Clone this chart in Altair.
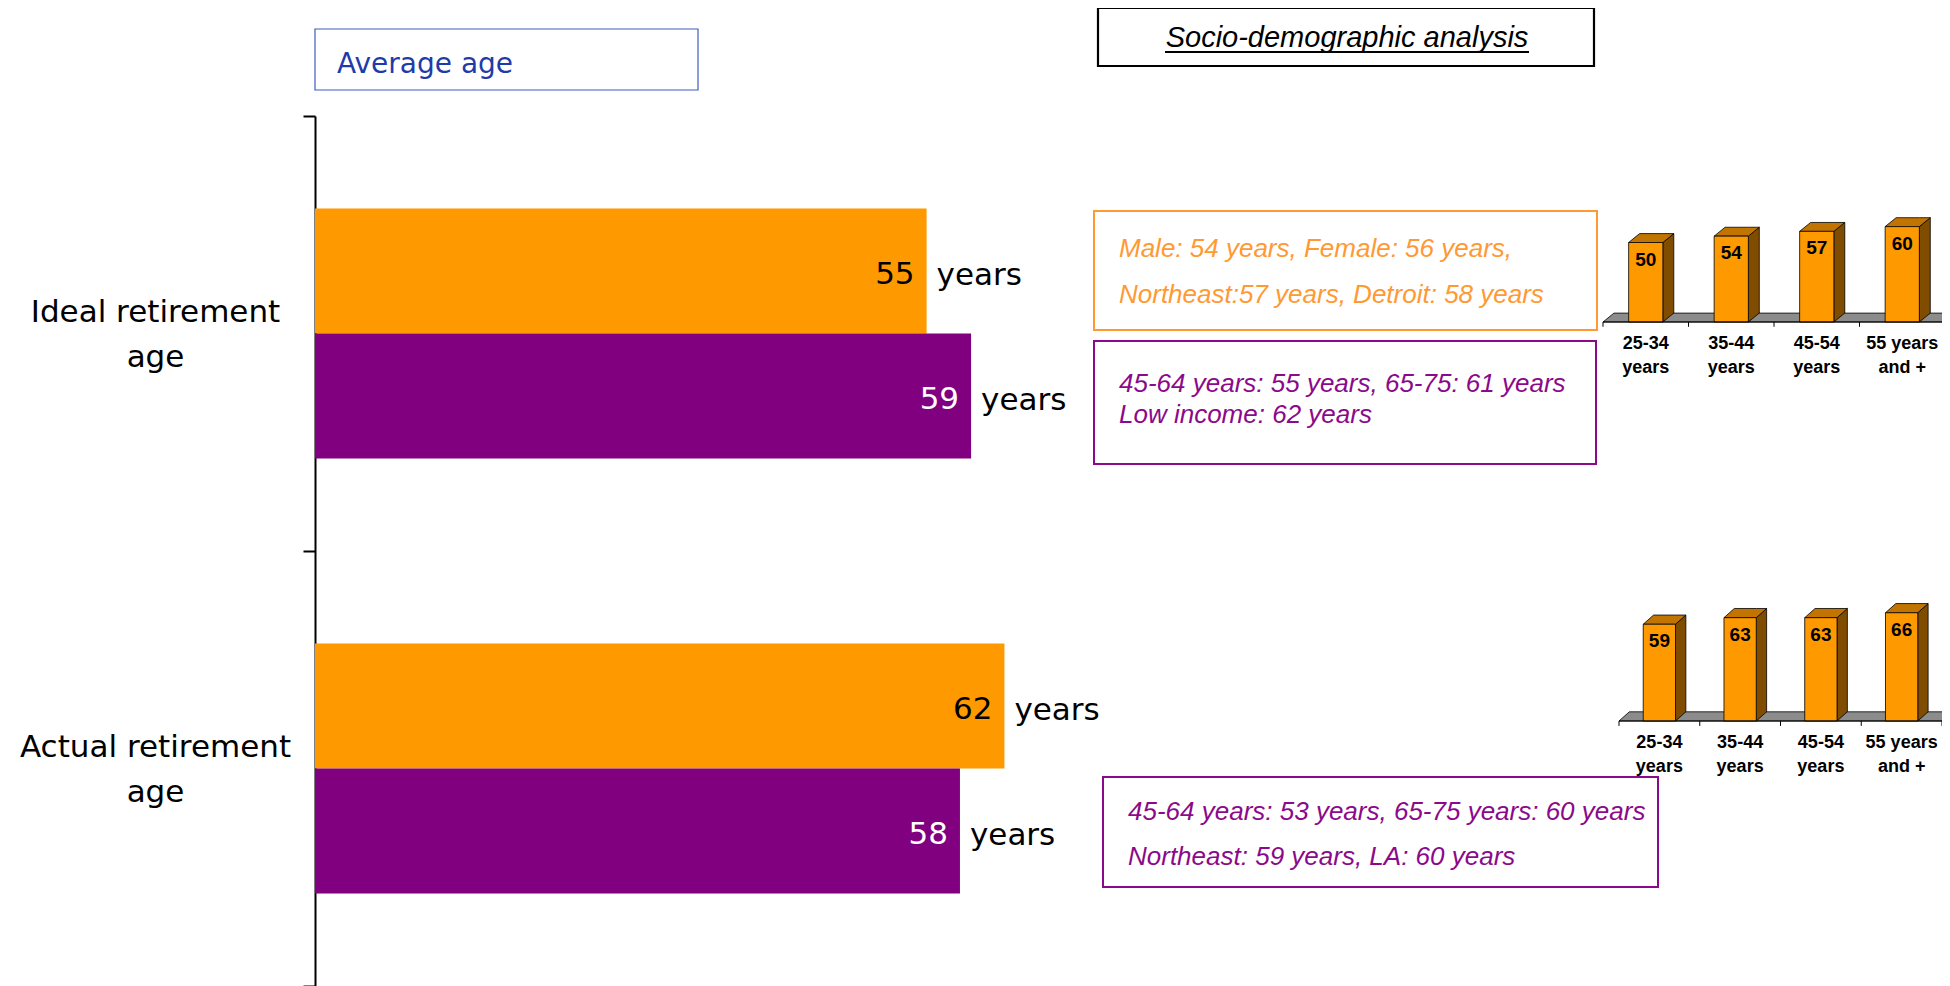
import altair as alt
import pandas as pd

# ---------------- data ----------------
categories = ["Ideal retirement age", "Actual retirement age"]
series = ["Series 1", "Series 2"]
ideal_values = [55, 59]
actual_values = [62, 58]
unit_label = "years"

age_groups = ["25-34\nyears", "35-44\nyears", "45-54\nyears", "55 years\nand +"]
ideal_by_age = [50, 54, 57, 60]
actual_by_age = [59, 63, 63, 66]

title_text = "Average age"
header_text = "Socio-demographic analysis"
ideal_notes_orange = ["Male: 54 years, Female: 56 years,", "Northeast:57 years, Detroit: 58 years"]
ideal_notes_purple = ["45-64 years: 55 years, 65-75: 61 years", "Low income: 62 years"]
actual_notes_purple = ["45-64 years: 53 years, 65-75 years: 60 years", "Northeast: 59 years, LA: 60 years"]

# ---------------- styles ----------------
ORANGE = "#FF9900"
PURPLE = "#800080"
NOTE_ORANGE = "#FF9933"
NOTE_PURPLE = "#8B0A8B"
BLUE = "#1F3BAA"
SIDE = "#7F4C00"
TOPF = "#C27400"
FLOOR = "#8C8C8C"
MAIN_FONT = "DejaVu Sans"
NOTE_FONT = "Liberation Sans"

rows = []
for c, vals in zip(categories, [ideal_values, actual_values]):
    for s, v in zip(series, vals):
        rows.append({"category": c, "series": s, "value": v})
main_df = pd.DataFrame(rows)

# ---------------- main bar chart ----------------
x_main = alt.X("value:Q", scale=alt.Scale(domain=[0, 100], range=[0, 1112]), axis=None)
y_main = alt.Y(
    "category:N", sort=categories, title=None,
    scale=alt.Scale(range=[0, 870], paddingInner=0, paddingOuter=0),
    axis=alt.Axis(
        domainColor="black", domainWidth=2, tickColor="black", tickWidth=2, tickSize=12,
        tickBand="extent", labelFont=MAIN_FONT, labelFontSize=31, labelColor="black",
        labelAlign="center", labelBaseline="middle", labelPadding=148, labelLineHeight=45,
        labelLimit=400, labelOffset=-21,
        labelExpr="[substring(datum.label, 0, lastindexof(datum.label, ' ')), "
                  "substring(datum.label, lastindexof(datum.label, ' ') + 1)]",
    ),
)
y_off = alt.YOffset("series:N", sort=series, scale=alt.Scale(paddingInner=0, paddingOuter=0.74))

bars = alt.Chart(main_df).mark_bar().encode(
    x=x_main, y=y_main, yOffset=y_off,
    color=alt.Color("series:N", scale=alt.Scale(domain=series, range=[ORANGE, PURPLE]), legend=None),
)
val_text = alt.Chart(main_df).mark_text(
    align="right", baseline="middle", dx=-12, dy=4, font=MAIN_FONT, fontSize=31
).encode(
    x=x_main, y=y_main, yOffset=y_off, text=alt.Text("value:Q", format="d"),
    color=alt.when(alt.datum.series == series[1]).then(alt.value("white")).otherwise(alt.value("black")),
)
unit_text = alt.Chart(main_df).mark_text(
    align="left", baseline="middle", dx=10, dy=5, font=MAIN_FONT, fontSize=31, color="black"
).encode(x=x_main, y=y_main, yOffset=y_off, text=alt.value(unit_label))

main = alt.layer(bars, val_text, unit_text)

# ---------------- mini 3D column charts ----------------
BAR_W = 0.4
DX = 0.128
DY = 5.6
TICK = 3


def mini_chart(values, x_range, y_range):
    n = len(values)
    front, side, top = [], [], []
    for i, (g, v) in enumerate(zip(age_groups, values)):
        x0, x1 = i + (1 - BAR_W) / 2, i + (1 + BAR_W) / 2
        front.append({"group": g, "x0": x0, "x1": x1, "lo": 0, "hi": v, "mid": i + 0.5, "value": v, "zero": 0})
        side += [{"bar": i, "x": x1, "lo": 0, "hi": v},
                 {"bar": i, "x": x1 + DX, "lo": DY, "hi": v + DY}]
        top += [{"bar": i, "x": x0, "lo": v, "hi": v},
                {"bar": i, "x": x0 + DX, "lo": v, "hi": v + DY},
                {"bar": i, "x": x1, "lo": v, "hi": v + DY},
                {"bar": i, "x": x1 + DX, "lo": v + DY, "hi": v + DY}]
    floor = [{"bar": 0, "x": 0, "lo": 0, "hi": 0}, {"bar": 0, "x": DX, "lo": 0, "hi": DY},
             {"bar": 0, "x": n, "lo": 0, "hi": DY}, {"bar": 0, "x": n + DX, "lo": DY, "hi": DY}]
    ticks = [{"x": i, "lo": -TICK, "hi": 0} for i in range(n + 1)]
    baseline = [{"x": 0, "x2": n, "y": 0}]

    xs = alt.Scale(domain=[0, n], range=x_range)
    ys = alt.Scale(domain=[0, 100], range=y_range)

    def area(df, fill):
        return alt.Chart(pd.DataFrame(df)).mark_area(fill=fill, stroke="black", strokeWidth=0.8).encode(
            x=alt.X("x:Q", scale=xs, axis=None),
            y=alt.Y("hi:Q", scale=ys, axis=None, stack=None),
            y2="lo:Q",
            detail="bar:N",
        )

    fdf = pd.DataFrame(front)
    front_l = alt.Chart(fdf).mark_rect(fill=ORANGE, stroke="black", strokeWidth=0.8).encode(
        x=alt.X("x0:Q", scale=xs, axis=None), x2="x1:Q",
        y=alt.Y("hi:Q", scale=ys, axis=None), y2="lo:Q",
    )
    base_l = alt.Chart(pd.DataFrame(baseline)).mark_rule(color="black", strokeWidth=1).encode(
        x=alt.X("x:Q", scale=xs, axis=None), x2="x2:Q", y=alt.Y("y:Q", scale=ys, axis=None),
    )
    tick_l = alt.Chart(pd.DataFrame(ticks)).mark_rule(color="black", strokeWidth=1).encode(
        x=alt.X("x:Q", scale=xs, axis=None), y=alt.Y("lo:Q", scale=ys, axis=None), y2="hi:Q",
    )
    val_l = alt.Chart(fdf).mark_text(
        font=NOTE_FONT, fontWeight="bold", fontSize=19, baseline="middle", dy=17, color="black"
    ).encode(
        x=alt.X("mid:Q", scale=xs, axis=None), y=alt.Y("hi:Q", scale=ys, axis=None),
        text=alt.Text("value:Q", format="d"),
    )
    lab_l = alt.Chart(fdf).mark_text(
        font=NOTE_FONT, fontWeight="bold", fontSize=18, baseline="alphabetic", dy=27,
        lineBreak="\n", lineHeight=24, color="black"
    ).encode(
        x=alt.X("mid:Q", scale=xs, axis=None), y=alt.Y("zero:Q", scale=ys, axis=None),
        text="group:N",
    )
    return alt.layer(area(floor, FLOOR), area(side, SIDE), area(top, TOPF), front_l,
                     base_l, tick_l, val_l, lab_l)


mini1 = mini_chart(ideal_by_age, [1288, 1630], [206, 47])
mini2 = mini_chart(actual_by_age, [1304, 1627], [605, 441])

# ---------------- annotation boxes ----------------
one = pd.DataFrame({"k": [0]})


def box(x1, x2, y1, y2, stroke, width):
    return alt.Chart(one).mark_rect(fill="white", fillOpacity=0, stroke=stroke, strokeWidth=width).encode(
        x=alt.value(x1), x2=alt.value(x2), y=alt.value(y1), y2=alt.value(y2))


def note(lines, x, y, color, size, lh, italic=True, font=NOTE_FONT, align="left"):
    return alt.Chart(one).mark_text(
        align=align, baseline="alphabetic", font=font, fontSize=size, lineHeight=lh,
        fontStyle="italic" if italic else "normal", color=color,
    ).encode(x=alt.value(x), y=alt.value(y), text=alt.value(lines))


ann = [
    box(0, 383, -87, -26, "#3C5CC0", 1.2),
    note(title_text, 22, -43, BLUE, 28, 30, italic=False, font=MAIN_FONT),
    box(783, 1279, -108, -50, "black", 2.2),
    note(header_text, 1032, -69, "black", 29, 30, align="center"),
    alt.Chart(one).mark_rule(color="black", strokeWidth=2).encode(
        x=alt.value(850), x2=alt.value(1214), y=alt.value(-64)),
    box(779, 1282, 95, 214, NOTE_ORANGE, 2),
    note(ideal_notes_orange, 804, 141, NOTE_ORANGE, 26, 46),
    box(779, 1281, 225, 348, NOTE_PURPLE, 2),
    note(ideal_notes_purple, 804, 276, NOTE_PURPLE, 26, 31),
    box(788, 1343, 661, 771, NOTE_PURPLE, 2),
    note(actual_notes_purple, 813, 704, NOTE_PURPLE, 26, 45),
]

chart = alt.layer(main, mini1, mini2, *ann).resolve_scale(
    x="independent", y="independent"
).properties(
    width=1627, height=870,
    autosize=alt.AutoSizeParams(type="none"),
    padding={"left": 307, "top": 108, "right": 0, "bottom": 0},
    background="white",
).configure_view(stroke=None)

chart.save("out.html", embed_options={"renderer": "svg", "actions": False})
